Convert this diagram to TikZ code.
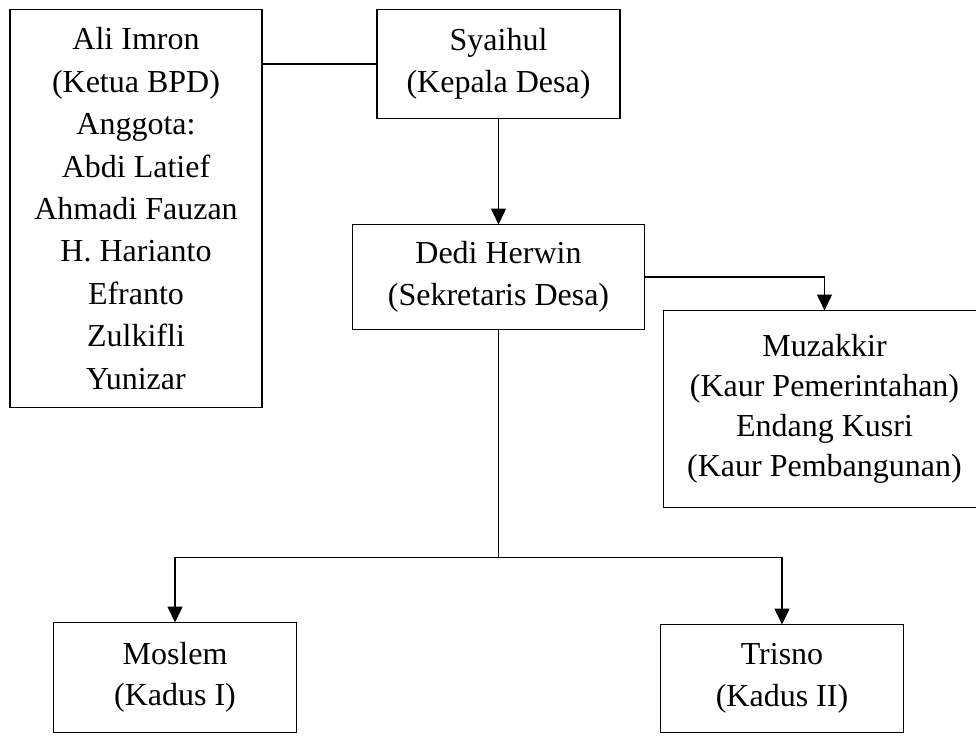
\documentclass[tikz,border=0pt]{standalone}
\usepackage{fontspec}
\setmainfont{Liberation Serif}
\usepackage{tikz}
\usetikzlibrary{positioning}
\usetikzlibrary{arrows.meta}

\begin{document}
\begin{tikzpicture}
    [orgbox/.style={rectangle, draw, line width=1.7pt, inner sep=0pt, outer sep=0pt, align=center, font=\fontsize{32}{41.5}\selectfont},
     link/.style={line width=1.5pt},
     arr/.style={line width=1.5pt, -{Triangle[length=16pt, width=15pt]}}]

    \useasboundingbox (0,0) rectangle (976pt,-738pt);

    \node [orgbox, anchor=north west, minimum width=252pt, minimum height=398pt,
           font=\fontsize{32}{42.4}\selectfont] (bpd) at (10pt,-9.5pt)
        {Ali Imron\\(Ketua BPD)\\Anggota:\\Abdi Latief\\Ahmadi Fauzan\\H. Harianto\\Efranto\\Zulkifli\\Yunizar};
    \node [orgbox, right=115pt of bpd.north east, anchor=north west, minimum width=243pt, minimum height=109pt] (kades)
        {Syaihul\\(Kepala Desa)};
    \node [orgbox, below=106pt of kades, minimum width=292pt, minimum height=105pt] (sekdes)
        {Dedi Herwin\\(Sekretaris Desa)};
    \node [orgbox, below right=86pt and 19pt of sekdes.north east, minimum width=322pt, minimum height=197pt,
           font=\fontsize{32}{40}\selectfont] (kaur)
        {Muzakkir\\(Kaur Pemerintahan)\\Endang Kusri\\(Kaur Pembangunan)};
    \node [orgbox, below left=293pt and 56pt of sekdes.south west, minimum width=243pt, minimum height=110pt] (kadus1)
        {Moslem\\(Kadus I)};
    \node [orgbox, below right=295pt and 16pt of sekdes.south east, minimum width=243pt, minimum height=108pt] (kadus2)
        {Trisno\\(Kadus II)};

    \draw [link] (bpd.east |- kades.west) -- (kades.west);
    \draw [arr] (kades) -- (sekdes);
    \draw [arr] (sekdes.east) -| (kaur.north);
    \draw [link] (sekdes.south) -- ++(0,-228pt) coordinate (fork);
    \draw [arr] (fork) -| (kadus1.north);
    \draw [arr] (fork) -| (kadus2.north);
\end{tikzpicture}
\end{document}
